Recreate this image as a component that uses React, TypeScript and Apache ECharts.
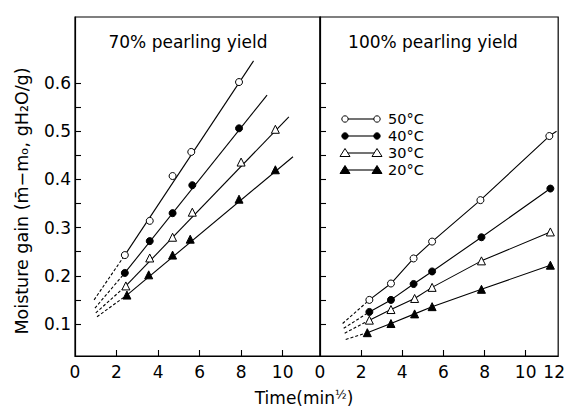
import React, { useEffect, useRef } from 'react';
import * as echarts from 'echarts';

// ---- data (x: time in min^1/2, y: moisture gain g H2O/g) ----
const TEMPS = ['50°C', '40°C', '30°C', '20°C'];
const SYMBOLS = ['circle', 'circle', 'triangle', 'triangle'];
const FILLS = ['#ffffff', '#000000', '#ffffff', '#000000'];

// 70% pearling yield
const T70_50 = [2.4, 3.6, 4.7, 5.6, 7.9];
const V70_50 = [0.243, 0.314, 0.407, 0.457, 0.602];
const T70_40 = [2.4, 3.6, 4.7, 5.65, 7.9];
const V70_40 = [0.206, 0.272, 0.33, 0.388, 0.506];
const T70_30 = [2.45, 3.6, 4.7, 5.65, 8.0, 9.65];
const V70_30 = [0.179, 0.237, 0.28, 0.332, 0.436, 0.504];
const T70_20 = [2.5, 3.55, 4.7, 5.55, 7.9, 9.65];
const V70_20 = [0.16, 0.202, 0.243, 0.276, 0.359, 0.42];
// fitted line end points and dashed extrapolation start points
const END70 = [[8.6, 0.646], [9.25, 0.575], [10.3, 0.53], [10.5, 0.447]];
const DASH70 = [[0.92, 0.15], [0.96, 0.133], [1.0, 0.123], [1.06, 0.115]];

// 100% pearling yield
const T100_50 = [2.4, 3.45, 4.55, 5.45, 7.8, 11.15];
const V100_50 = [0.15, 0.184, 0.236, 0.271, 0.357, 0.49];
const T100_40 = [2.4, 3.45, 4.55, 5.45, 7.85, 11.2];
const V100_40 = [0.125, 0.15, 0.183, 0.209, 0.28, 0.381];
const T100_30 = [2.4, 3.45, 4.6, 5.45, 7.85, 11.2];
const V100_30 = [0.108, 0.13, 0.153, 0.176, 0.231, 0.291];
const T100_20 = [2.3, 3.45, 4.6, 5.45, 7.85, 11.2];
const V100_20 = [0.082, 0.101, 0.121, 0.136, 0.172, 0.222];
const END100 = [[11.5, 0.5], [11.2, 0.381], [11.2, 0.291], [11.2, 0.222]];
const DASH100 = [[1.1, 0.101], [1.15, 0.091], [1.2, 0.081], [1.25, 0.068]];

const X_TICKS = [2, 4, 6, 8, 10];
const X_LABELS_LEFT = [0, 2, 4, 6, 8, 10];
const X_LABELS_RIGHT = [0, 2, 4, 6, 8, 10];
const Y_LABELS = [0.1, 0.2, 0.3, 0.4, 0.5, 0.6];
const Y_TICKS = [0.1, 0.15, 0.2, 0.25, 0.3, 0.35, 0.4, 0.45, 0.5, 0.55, 0.6];

const X_LEFT_MAX = 11.8;
const X_RIGHT_MAX = 11.58;
const Y_MIN = 0.0336;
const Y_MAX = 0.737;

const PANEL_TITLES = ['70% pearling yield', '100% pearling yield'];

const FONT = 'DejaVu Sans';

export default function App() {
  const ref = useRef<HTMLDivElement>(null);

  useEffect(() => {
    if (!ref.current) return;
    const chart = echarts.init(ref.current, null, { renderer: 'svg' });

    const panels = [
      {
        T: [T70_50, T70_40, T70_30, T70_20],
        V: [V70_50, V70_40, V70_30, V70_20],
        END: END70,
        DASH: DASH70,
        straight: true,
      },
      {
        T: [T100_50, T100_40, T100_30, T100_20],
        V: [V100_50, V100_40, V100_30, V100_20],
        END: END100,
        DASH: DASH100,
        straight: false,
      },
    ];

    const series: any[] = [];
    panels.forEach((p, g) => {
      for (let k = 0; k < 4; k++) {
        const pts = p.T[k].map((t, i) => [t, p.V[k][i]]);
        series.push({
          type: 'line',
          xAxisIndex: g,
          yAxisIndex: g,
          data: [p.DASH[k], pts[0]],
          symbol: 'none',
          lineStyle: { color: '#000', width: 1.1, type: [3, 2] },
          silent: true,
        });
        const solid = p.straight ? [pts[0], p.END[k]] : [...pts, p.END[k]];
        series.push({
          type: 'line',
          xAxisIndex: g,
          yAxisIndex: g,
          data: solid,
          symbol: 'none',
          lineStyle: { color: '#000', width: 1.1 },
          silent: true,
        });
        series.push({
          type: 'scatter',
          name: TEMPS[k],
          xAxisIndex: g,
          yAxisIndex: g,
          data: pts,
          symbol: SYMBOLS[k],
          symbolSize: SYMBOLS[k] === 'circle' ? 7 : 8,
          itemStyle: { color: FILLS[k], borderColor: '#000', borderWidth: 1, opacity: 1 },
          z: 5,
        });
      }
    });

    const xAxisBase = (g: number) => ({
      type: 'value',
      gridIndex: g,
      min: 0,
      max: g === 0 ? X_LEFT_MAX : X_RIGHT_MAX,
      axisLine: { show: true, lineStyle: { color: '#000', width: 1.2 } },
      axisTick: {
        show: true,
        inside: true,
        length: 6,
        customValues: X_TICKS,
        lineStyle: { color: '#000', width: 1.1 },
      },
      axisLabel: {
        show: true,
        customValues: g === 0 ? X_LABELS_LEFT : [...X_LABELS_RIGHT, X_RIGHT_MAX],
        color: '#000',
        fontFamily: FONT,
        fontSize: 17,
        margin: 7,
        formatter: (v: number) => (v > 11 ? '{r|12}' : String(Math.round(v))),
        rich: { r: { fontFamily: FONT, fontSize: 17, color: '#000', padding: [0, 8, 0, 0] } },
      },
      splitLine: { show: false },
    });

    const yAxisBase = (g: number) => ({
      type: 'value',
      gridIndex: g,
      min: Y_MIN,
      max: Y_MAX,
      axisLine: { show: true, lineStyle: { color: '#000', width: 1.2 } },
      axisTick: {
        show: true,
        inside: true,
        length: 6,
        customValues: Y_TICKS,
        lineStyle: { color: '#000', width: 1.1 },
      },
      axisLabel: {
        show: g === 0,
        customValues: Y_LABELS,
        color: '#000',
        fontFamily: FONT,
        fontSize: 17,
        margin: 4,
        formatter: (v: number) => v.toFixed(1),
      },
      splitLine: { show: false },
    });

    // legend drawn as graphic (symbol-line-symbol style)
    const legendRows = [119, 136, 153, 170];
    const legendGraphics: any[] = [];
    legendRows.forEach((y, k) => {
      const x1 = 345;
      const x2 = 377;
      legendGraphics.push({
        type: 'line',
        shape: { x1, y1: y, x2, y2: y },
        style: { stroke: '#000', lineWidth: 1.1 },
      });
      [x1, x2].forEach((x) => {
        if (SYMBOLS[k] === 'circle') {
          legendGraphics.push({
            type: 'circle',
            shape: { cx: x, cy: y, r: 3.2 },
            style: { fill: FILLS[k], stroke: '#000', lineWidth: 1 },
          });
        } else {
          legendGraphics.push({
            type: 'polygon',
            shape: { points: [[x, y - 4.5], [x - 5, y + 3.5], [x + 5, y + 3.5]] },
            style: { fill: FILLS[k], stroke: '#000', lineWidth: 1 },
          });
        }
      });
      legendGraphics.push({
        type: 'text',
        x: 388,
        y,
        style: {
          text: TEMPS[k],
          fontFamily: FONT,
          fontSize: 14.5,
          fill: '#000',
          textAlign: 'left',
          textVerticalAlign: 'middle',
        },
      });
    });

    chart.setOption({
      animation: false,
      backgroundColor: '#fff',
      grid: [
        { left: 75, top: 17, width: 245, height: 339, show: true, borderColor: '#000', borderWidth: 1.2, backgroundColor: 'transparent' },
        { left: 320, top: 17, width: 242, height: 339, show: true, borderColor: '#000', borderWidth: 1.2, backgroundColor: 'transparent' },
      ],
      xAxis: [xAxisBase(0), xAxisBase(1)],
      yAxis: [yAxisBase(0), yAxisBase(1)],
      series,
      graphic: [
        {
          type: 'text',
          x: 188,
          y: 42,
          style: { text: PANEL_TITLES[0], fontFamily: FONT, fontSize: 17, fill: '#000', textAlign: 'center', textVerticalAlign: 'middle' },
        },
        {
          type: 'text',
          x: 433,
          y: 42,
          style: { text: PANEL_TITLES[1], fontFamily: FONT, fontSize: 17, fill: '#000', textAlign: 'center', textVerticalAlign: 'middle' },
        },
        {
          type: 'text',
          x: 22,
          y: 201,
          rotation: Math.PI / 2,
          style: {
            text: 'Moisture gain (m̄−mₒ, gH₂O/g)',
            fontFamily: FONT,
            fontSize: 17.5,
            fill: '#000',
            textAlign: 'center',
            textVerticalAlign: 'middle',
          },
        },
        {
          type: 'text',
          x: 304,
          y: 398,
          style: {
            text: 'Time(min{s|½})',
            fontFamily: FONT,
            fontSize: 17,
            fill: '#000',
            textAlign: 'center',
            textVerticalAlign: 'middle',
            rich: { s: { fontFamily: FONT, fontSize: 12, fill: '#000', padding: [0, 0, 7, 0] } },
          },
        },
        ...legendGraphics,
      ],
    });

    return () => chart.dispose();
  }, []);

  return (
    <div
      ref={ref}
      style={{ position: 'fixed', left: 0, top: 0, width: 568, height: 411, background: '#fff' }}
    />
  );
}
